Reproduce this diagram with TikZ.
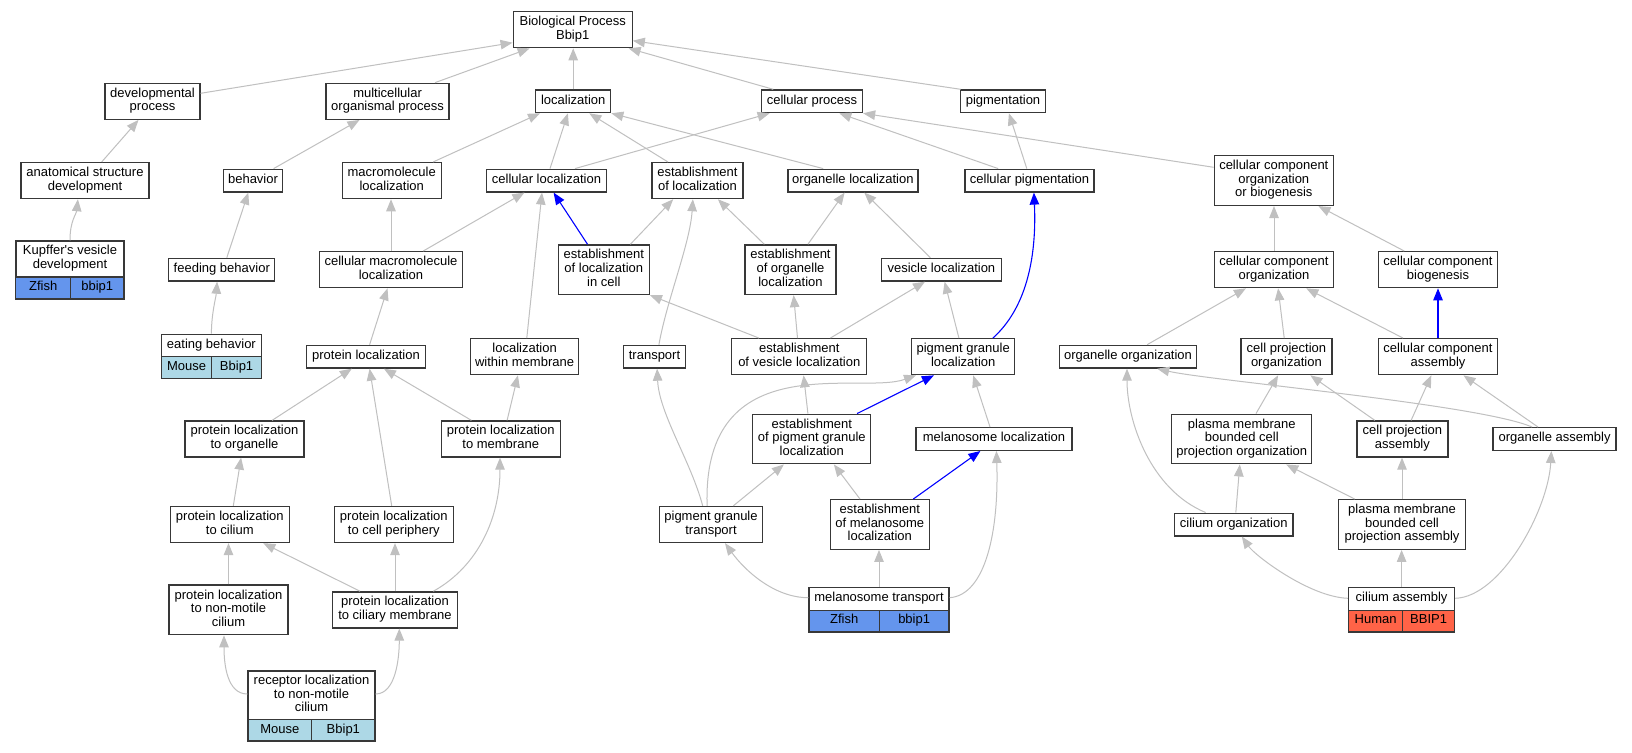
\documentclass[tikz,border=0pt]{standalone}
\usepackage{fontspec}
\setmainfont{Liberation Sans}
\usetikzlibrary{arrows.meta}
\definecolor{edgegray}{HTML}{C0C0C0}
\definecolor{zfishblue}{HTML}{6495ED}
\definecolor{mouseblue}{HTML}{ADD8E6}
\definecolor{humanred}{HTML}{FF6347}
\definecolor{bordergray}{HTML}{383838}
\tikzset{
  box/.style={draw=bordergray, line width=1.3pt, fill=white, inner sep=0pt, align=center, font=\fontsize{13}{13.6}\selectfont},
  l1/.style={minimum height=22.7pt},
  l2/.style={minimum height=36pt},
  l3/.style={minimum height=49.6pt},
  cellbox/.style={box, minimum height=21.7pt},
  gedge/.style={draw=edgegray, line width=1pt, -{Triangle[length=12pt,width=9.5pt]}},
  bedge/.style={draw=blue, line width=1.1pt, -{Triangle[length=12pt,width=9.5pt]}}
}
\begin{document}
\begin{tikzpicture}[x=1pt,y=-1pt]
\fill[white] (0,0) rectangle (1632,752);
\useasboundingbox (0,0) rectangle (1632,752);
% rank 0
\node[box,l2,minimum width=119pt] (bp) at (572.7,29.7) {\strut Biological Process\\\strut Bbip1};
% rank 1
\node[box,l2,minimum width=95pt] (dev) at (152.5,101.3) {\strut developmental\\\strut process};
\node[box,l2,minimum width=123pt] (multi) at (387.6,101.3) {\strut multicellular\\\strut organismal process};
\node[box,l1,minimum width=75pt] (loc) at (573.2,101.3) {\strut localization};
\node[box,l1,minimum width=101pt] (cproc) at (812,101.3) {\strut cellular process};
\node[box,l1,minimum width=85pt] (pig) at (1003,101.3) {\strut pigmentation};
% rank 2
\node[box,l2,minimum width=128pt] (asd) at (85,180.6) {\strut anatomical structure\\\strut development};
\node[box,l1,minimum width=59pt] (beh) at (253,180.6) {\strut behavior};
\node[box,l2,minimum width=99pt] (mml) at (391.7,180.6) {\strut macromolecule\\\strut localization};
\node[box,l1,minimum width=120pt] (cloc) at (546.5,180.6) {\strut cellular localization};
\node[box,l2,minimum width=91pt] (eloc) at (697.4,180.6) {\strut establishment\\\strut of localization};
\node[box,l1,minimum width=130pt] (oloc) at (852.9,180.6) {\strut organelle localization};
\node[box,l1,minimum width=129pt] (cpig) at (1029.6,180.6) {\strut cellular pigmentation};
\node[box,l3,minimum width=119pt] (ccob) at (1273.8,180.6) {\strut cellular component\\\strut organization\\\strut or biogenesis};
% rank 3
\node[box,l2,minimum width=108pt] (kup) at (70,259) {\strut Kupffer\textquotesingle s vesicle\\\strut development};
\node[cellbox,fill=zfishblue,minimum width=55pt,minimum height=22pt] (kupz) at (43.2,288) {\strut Zfish};
\node[cellbox,fill=zfishblue,minimum width=53.2pt,minimum height=22pt] (kupb) at (97.3,288) {\strut bbip1};
\node[box,l1,minimum width=106pt] (feed) at (221.8,269.7) {\strut feeding behavior};
\node[box,l2,minimum width=143pt] (cmml) at (391,269.7) {\strut cellular macromolecule\\\strut localization};
\node[box,l3,minimum width=91pt] (elic) at (603.8,269.7) {\strut establishment\\\strut of localization\\\strut in cell};
\node[box,l3,minimum width=91pt] (eol) at (790.5,269.7) {\strut establishment\\\strut of organelle\\\strut localization};
\node[box,l1,minimum width=120pt] (vloc) at (941.4,269.7) {\strut vesicle localization};
\node[box,l2,minimum width=119pt] (cco) at (1274,269.7) {\strut cellular component\\\strut organization};
\node[box,l2,minimum width=119pt] (ccb) at (1438,269.7) {\strut cellular component\\\strut biogenesis};
% rank 4
\node[box,minimum height=22.4pt,minimum width=100pt] (eat) at (211.4,345.5) {\strut eating behavior};
\node[cellbox,fill=mouseblue,minimum width=50.4pt,minimum height=22pt] (eatm) at (186.6,367.6) {\strut Mouse};
\node[cellbox,fill=mouseblue,minimum width=49.6pt,minimum height=22pt] (eatb) at (236.6,367.6) {\strut Bbip1};
\node[box,l1,minimum width=119pt] (ploc) at (366,356.7) {\strut protein localization};
\node[box,l2,minimum width=108pt] (lwm) at (524.6,356.7) {\strut localization\\\strut within membrane};
\node[box,l1,minimum width=62pt] (trans) at (654.5,356.7) {\strut transport};
\node[box,l2,minimum width=135pt] (evl) at (799.3,356.7) {\strut establishment\\\strut of vesicle localization};
\node[box,l2,minimum width=103pt] (pgl) at (963.2,356.7) {\strut pigment granule\\\strut localization};
\node[box,l1,minimum width=137pt] (oorg) at (1128,356.7) {\strut organelle organization};
\node[box,l2,minimum width=91pt] (cpo) at (1286.4,356.7) {\strut cell projection\\\strut organization};
\node[box,l2,minimum width=119pt] (cca) at (1438,356.7) {\strut cellular component\\\strut assembly};
% rank 5
\node[box,l2,minimum width=119pt] (plo) at (244.5,439) {\strut protein localization\\\strut to organelle};
\node[box,l2,minimum width=119pt] (plm) at (500.7,439) {\strut protein localization\\\strut to membrane};
\node[box,l3,minimum width=118pt] (epgl) at (811.8,439) {\strut establishment\\\strut of pigment granule\\\strut localization};
\node[box,l1,minimum width=156pt] (mloc) at (994,439) {\strut melanosome localization};
\node[box,l3,minimum width=140pt] (pmbcpo) at (1241.8,439) {\strut plasma membrane\\\strut bounded cell\\\strut projection organization};
\node[box,l2,minimum width=91pt] (cpa) at (1402.4,439) {\strut cell projection\\\strut assembly};
\node[box,l1,minimum width=123pt] (oass) at (1554.6,439) {\strut organelle assembly};
% rank 6
\node[box,l2,minimum width=119pt] (plc) at (229.8,524.5) {\strut protein localization\\\strut to cilium};
\node[box,l2,minimum width=119pt] (plcp) at (393.8,524.5) {\strut protein localization\\\strut to cell periphery};
\node[box,l2,minimum width=103.4pt] (pgt) at (711,524.5) {\strut pigment granule\\\strut transport};
\node[box,l3,minimum width=99pt] (eml) at (879.8,524.5) {\strut establishment\\\strut of melanosome\\\strut localization};
\node[box,l1,minimum width=118.5pt] (corg) at (1233.7,524.5) {\strut cilium organization};
\node[box,l3,minimum width=127pt] (pmbcpa) at (1402,524.5) {\strut plasma membrane\\\strut bounded cell\\\strut projection assembly};
% rank 7
\node[box,l3,minimum width=119pt] (plnm) at (228.5,609.9) {\strut protein localization\\\strut to non-motile\\\strut cilium};
\node[box,l2,minimum width=124.6pt] (plcm) at (395,609.9) {\strut protein localization\\\strut to ciliary membrane};
\node[box,minimum height=22.6pt,minimum width=140pt] (mt) at (879,599) {\strut melanosome transport};
\node[cellbox,fill=zfishblue,minimum width=70.3pt] (mtz) at (844.15,621.15) {\strut Zfish};
\node[cellbox,fill=zfishblue,minimum width=69.7pt] (mtb) at (914.15,621.15) {\strut bbip1};
\node[box,minimum height=22.6pt,minimum width=106pt] (ca) at (1401.6,599) {\strut cilium assembly};
\node[cellbox,fill=humanred,minimum width=54.1pt] (cah) at (1375.65,621.15) {\strut Human};
\node[cellbox,fill=humanred,minimum width=51.9pt] (cab) at (1428.65,621.15) {\strut BBIP1};
% rank 8
\node[box,minimum height=48.7pt,minimum width=127pt] (rec) at (311.5,695.3) {\strut receptor localization\\\strut to non-motile\\\strut cilium};
\node[cellbox,fill=mouseblue,minimum width=63.7pt,minimum height=21.3pt] (recm) at (279.85,730.35) {\strut Mouse};
\node[cellbox,fill=mouseblue,minimum width=63.3pt,minimum height=21.3pt] (recb) at (343.35,730.35) {\strut Bbip1};
% edges to rank 0
\draw[gedge] ([yshift=8pt]dev.east) -- ([yshift=-13pt]bp.west);
\draw[gedge] ([xshift=47.4pt]multi.north) -- ([xshift=-43.1pt]bp.south);
\draw[gedge] (loc.north) -- (loc.north |- bp.south);
\draw[gedge] ([xshift=-38.8pt]cproc.north) -- ([xshift=55.9pt]bp.south);
\draw[gedge] ([xshift=-42.3pt]pig.north) -- ([yshift=-11pt]bp.east);
% edges from rank 2
\draw[gedge] ([xshift=16.7pt]asd.north) -- ([xshift=-14pt]dev.south);
\draw[gedge] ([xshift=20.6pt]beh.north) -- ([xshift=-28.1pt]multi.south);
\draw[gedge] ([xshift=41.5pt]mml.north) -- ([xshift=-33.2pt]loc.south);
\draw[gedge] ([xshift=3.5pt]cloc.north) -- ([xshift=-5.3pt]loc.south);
\draw[gedge] ([xshift=28.5pt]cloc.north) -- ([xshift=-42.4pt]cproc.south);
\draw[gedge] ([xshift=-29.5pt]eloc.north) -- ([xshift=16.1pt]loc.south);
\draw[gedge] ([xshift=-29.7pt]oloc.north) -- (loc.south east);
\draw[gedge] ([xshift=-31.4pt]cpig.north) -- ([xshift=27.3pt]cproc.south);
\draw[gedge] ([xshift=-2.8pt]cpig.north) -- ([xshift=5.9pt]pig.south);
\draw[gedge] ([yshift=13.3pt]ccob.west) -- (cproc.south east);
% edges from rank 3
\draw[gedge] (kup.north) .. controls +(0,-20) and +(-1.5,15) .. ([xshift=-7.1pt]asd.south);
\draw[gedge] ([xshift=5pt]feed.north) -- ([xshift=-4.7pt]beh.south);
\draw[gedge] (cmml.north) -- (cmml.north |- mml.south);
\draw[gedge] ([xshift=32.2pt]cmml.north) -- ([xshift=-22.1pt]cloc.south);
\draw[bedge] ([xshift=-16.3pt]elic.north) -- ([xshift=7.1pt]cloc.south);
\draw[gedge] ([xshift=26.6pt]elic.north) -- ([xshift=-24.2pt]eloc.south);
\draw[gedge] ([xshift=-26.2pt]eol.north) -- ([xshift=20.5pt]eloc.south);
\draw[gedge] ([xshift=17.4pt]eol.north) -- ([xshift=-8.3pt]oloc.south);
\draw[gedge] ([xshift=-11pt]vloc.north) -- ([xshift=11.4pt]oloc.south);
\draw[gedge] (cco.north) -- (cco.north |- ccob.south);
\draw[gedge] ([xshift=-33.7pt]ccb.north) -- ([xshift=44.6pt]ccob.south);
% edges from rank 4
\draw[gedge] (eat.north) .. controls +(0,-20) and +(-1,15) .. ([xshift=-4.7pt]feed.south);
\draw[gedge] ([xshift=3.6pt]ploc.north) -- ([xshift=-3.5pt]cmml.south);
\draw[gedge] ([xshift=2.2pt]lwm.north) -- ([xshift=-4.5pt]cloc.south);
\draw[gedge] ([xshift=4.4pt]trans.north) .. controls +(8,-45) and +(-3,45) .. ([xshift=-4.5pt]eloc.south);
\draw[gedge] ([xshift=-40.4pt]evl.north) -- (elic.south east);
\draw[gedge] ([xshift=-1.8pt]evl.north) -- ([xshift=3.1pt]eol.south);
\draw[gedge] ([xshift=31.1pt]evl.north) -- ([xshift=-16.4pt]vloc.south);
\draw[gedge] ([xshift=-4.3pt]pgl.north) -- ([xshift=3.2pt]vloc.south);
\draw[bedge] ([xshift=29.7pt]pgl.north) .. controls +(32,-28.7) and +(3,68) .. ([xshift=4.3pt]cpig.south);
\draw[gedge] ([xshift=19.1pt]oorg.north) -- ([xshift=-28.1pt]cco.south);
\draw[gedge] ([xshift=-2.2pt]cpo.north) -- ([xshift=4.1pt]cco.south);
\draw[gedge] ([xshift=-35pt]cca.north) -- ([xshift=32.3pt]cco.south);
\draw[bedge] (cca.north) -- (cca.north |- ccb.south);
% edges from rank 5
\draw[gedge] ([xshift=27.6pt]plo.north) -- ([xshift=-14.2pt]ploc.south);
\draw[gedge] ([xshift=-29.3pt]plm.north) -- ([xshift=17.9pt]ploc.south);
\draw[gedge] ([xshift=6.4pt]plm.north) -- ([xshift=-6.7pt]lwm.south);
\draw[gedge] ([xshift=-3.9pt]epgl.north) -- ([xshift=4.3pt]evl.south);
\draw[bedge] ([xshift=45.3pt]epgl.north) -- ([xshift=-29.3pt]pgl.south);
\draw[gedge] ([xshift=-4pt]mloc.north) -- ([xshift=10pt]pgl.south);
\draw[gedge] ([xshift=14.2pt]pmbcpo.north) -- ([xshift=-8.3pt]cpo.south);
\draw[gedge] ([xshift=-27.6pt]cpa.north) -- ([xshift=24pt]cpo.south);
\draw[gedge] ([xshift=8.7pt]cpa.north) -- ([xshift=-6.7pt]cca.south);
\draw[gedge] ([xshift=-16.6pt]oass.north) -- ([xshift=25.5pt]cca.south);
\draw[gedge] ([xshift=-22.6pt]oass.north) .. controls +(-52,-22.6) and +(52.8,12) .. ([xshift=29.2pt]oorg.south);
% edges from rank 6
\draw[gedge] ([xshift=3.5pt]plc.north) -- ([xshift=-3.4pt]plo.south);
\draw[gedge] ([xshift=-2.1pt]plcp.north) -- ([xshift=3.6pt]ploc.south);
\draw[gedge] ([xshift=-8.3pt]pgt.north) .. controls +(-12,-45) and +(2,45) .. ([xshift=2.6pt]trans.south);
\draw[gedge] ([xshift=22.3pt]pgt.north) -- ([xshift=-27.9pt]epgl.south);
\draw[gedge] ([xshift=-3.9pt]pgt.north) .. controls +(-5,-161.5) and +(-56,20) .. ([xshift=-47.2pt]pgl.south);
\draw[gedge] ([xshift=-19.8pt]eml.north) -- ([xshift=22.1pt]epgl.south);
\draw[bedge] ([xshift=33.5pt]eml.north) -- ([xshift=-13.6pt]mloc.south);
\draw[gedge] ([xshift=-28.1pt]corg.north) .. controls +(-55.6,-23) and +(0,52) .. ([xshift=-1pt]oorg.south);
\draw[gedge] ([xshift=2.1pt]corg.north) -- ([xshift=-2pt]pmbcpo.south);
\draw[gedge] ([xshift=-47.3pt]pmbcpa.north) -- ([xshift=44.4pt]pmbcpo.south);
\draw[gedge] (pmbcpa.north) -- (pmbcpa.north |- cpa.south);
% edges from rank 7
\draw[gedge] (plnm.north) -- (plnm.north |- plc.south);
\draw[gedge] ([xshift=-35pt]plcm.north) -- ([xshift=33.5pt]plc.south);
\draw[gedge] (plcm.north) -- (plcm.north |- plcp.south);
\draw[gedge] ([xshift=38.3pt]plcm.north) .. controls +(45,-25) and +(0,60) .. ([xshift=-0.7pt]plm.south);
\draw[gedge] ([yshift=1.3pt]mt.west) .. controls +(-34,0) and +(20,27.5) .. ([xshift=14pt]pgt.south);
\draw[gedge] (mt.north) -- (mt.north |- eml.south);
\draw[gedge] ([yshift=1.3pt]mt.east) .. controls +(36,-2.7) and +(2.6,80) .. ([xshift=2.4pt]mloc.south);
\draw[gedge] ([yshift=0.7pt]ca.west) .. controls +(-38.6,-1.3) and +(13.2,19.1) .. ([xshift=8.1pt]corg.south);
\draw[gedge] (ca.north) -- (ca.north |- pmbcpa.south);
\draw[gedge] ([yshift=0.7pt]ca.east) .. controls +(45.3,-1.3) and +(-3.4,59.6) .. ([xshift=-3.2pt]oass.south);
% edges from rank 8
\draw[gedge] ([yshift=1.3pt]rec.west) .. controls +(-20,0) and +(0,30) .. ([xshift=-4.5pt]plnm.south);
\draw[gedge] ([yshift=1.3pt]rec.east) .. controls +(20,0) and +(0,30) .. ([xshift=4.3pt]plcm.south);
\end{tikzpicture}
\end{document}
